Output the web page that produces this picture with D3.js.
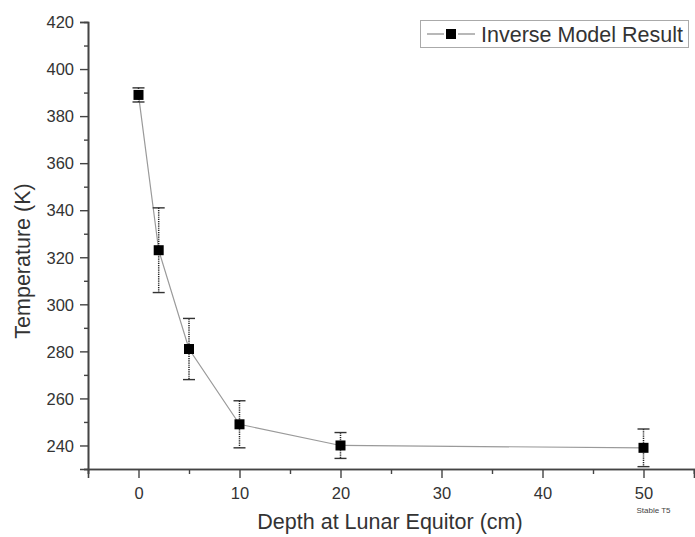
<!DOCTYPE html>
<html><head><meta charset="utf-8">
<script src="https://cdn.jsdelivr.net/npm/d3@7"></script>
<style>body{margin:0;background:#fff}svg{display:block}text{font-family:"Liberation Sans",Arial,sans-serif}</style>
</head><body>
<svg id="c" width="695" height="537"></svg>
<script>
const depths = [0, 2, 5, 10, 20, 50];
const temps = [389, 323, 281, 249, 240, 239];
const errs = [3, 18, 13, 10, 5.5, 8];
const xTicks = [0, 10, 20, 30, 40, 50];
const xMinor = [-5, 5, 15, 25, 35, 45, 55];
const yTicks = [240, 260, 280, 300, 320, 340, 360, 380, 400, 420];
const yMinor = [230, 250, 270, 290, 310, 330, 350, 370, 390, 410];
const seriesName = "Inverse Model Result";
const xTitle = "Depth at Lunar Equitor (cm)";
const yTitle = "Temperature (K)";
const note = "Stable T5";

const svg = d3.select("#c");
const L = 88, R = 694, T = 22, B = 469;
const x = d3.scaleLinear().domain([-5, 55]).range([L, R]);
const y = d3.scaleLinear().domain([230, 420]).range([B, T]);
const axCol = "#444";

// Axes
const gx = svg.append("g").attr("transform", `translate(0,${B})`);
gx.call(d3.axisBottom(x).tickValues(xTicks).tickSize(9).tickPadding(6).tickFormat(d3.format("d")));
const gxm = svg.append("g").attr("transform", `translate(0,${B})`);
gxm.call(d3.axisBottom(x).tickValues(xMinor).tickSize(5).tickFormat(""));
const gy = svg.append("g").attr("transform", `translate(${L},0)`);
gy.call(d3.axisLeft(y).tickValues(yTicks).tickSize(8).tickPadding(6).tickFormat(d3.format("d")));
const gym = svg.append("g").attr("transform", `translate(${L},0)`);
gym.call(d3.axisLeft(y).tickValues(yMinor).tickSize(4).tickFormat(""));
[gx, gxm, gy, gym].forEach(g => {
  g.select(".domain").attr("stroke", axCol).attr("stroke-width", 1.6);
  g.selectAll(".tick line").attr("stroke", axCol).attr("stroke-width", 1.4);
  g.selectAll(".tick text").attr("fill", "#333").attr("font-size", 16.5);
});
gx.selectAll(".tick text").attr("dy", "0.9em");
gy.selectAll(".tick text").attr("dy", "0.35em");

// Note under 50
svg.append("text").attr("x", x(50) + 10).attr("y", 513).attr("text-anchor", "middle")
  .attr("font-size", 8).attr("fill", "#444").text(note);

// Titles
svg.append("text").attr("x", 390).attr("y", 529).attr("text-anchor", "middle")
  .attr("font-size", 21.5).attr("fill", "#333").text(xTitle);
svg.append("text").attr("transform", `translate(30,261) rotate(-90)`).attr("text-anchor", "middle")
  .attr("font-size", 21.5).attr("fill", "#333").text(yTitle);

// Line
const data = depths.map((d, i) => ({ x: d, y: temps[i], e: errs[i] }));
svg.append("path").datum(data)
  .attr("d", d3.line().x(d => x(d.x)).y(d => y(d.y)))
  .attr("fill", "none").attr("stroke", "#9a9a9a").attr("stroke-width", 1.2);

// Error bars
const eb = svg.append("g").selectAll("g").data(data).join("g");
eb.append("line").attr("x1", d => x(d.x)).attr("x2", d => x(d.x))
  .attr("y1", d => y(d.y + d.e)).attr("y2", d => y(d.y - d.e))
  .attr("stroke", "#222").attr("stroke-width", 1.5).attr("stroke-dasharray", "1.2,1");
eb.append("line").attr("x1", d => x(d.x) - 6).attr("x2", d => x(d.x) + 6)
  .attr("y1", d => y(d.y + d.e)).attr("y2", d => y(d.y + d.e))
  .attr("stroke", "#333").attr("stroke-width", 1.4);
eb.append("line").attr("x1", d => x(d.x) - 6).attr("x2", d => x(d.x) + 6)
  .attr("y1", d => y(d.y - d.e)).attr("y2", d => y(d.y - d.e))
  .attr("stroke", "#333").attr("stroke-width", 1.4);

// Markers
svg.append("g").selectAll("rect").data(data).join("rect")
  .attr("x", d => x(d.x) - 5).attr("y", d => y(d.y) - 5)
  .attr("width", 10).attr("height", 10).attr("fill", "#000");

// Legend
const lg = svg.append("g");
lg.append("rect").attr("x", 420.5).attr("y", 20.5).attr("width", 268).attr("height", 27)
  .attr("fill", "#fff").attr("stroke", "#aaa").attr("stroke-width", 1);
lg.append("line").attr("x1", 427).attr("x2", 444).attr("y1", 34).attr("y2", 34)
  .attr("stroke", "#888").attr("stroke-width", 1.2);
lg.append("line").attr("x1", 458).attr("x2", 475).attr("y1", 34).attr("y2", 34)
  .attr("stroke", "#888").attr("stroke-width", 1.2);
lg.append("rect").attr("x", 446).attr("y", 29).attr("width", 10).attr("height", 10).attr("fill", "#000");
lg.append("text").attr("x", 481).attr("y", 41.5).attr("font-size", 21.5).attr("fill", "#333").text(seriesName);
</script>
</body></html>
